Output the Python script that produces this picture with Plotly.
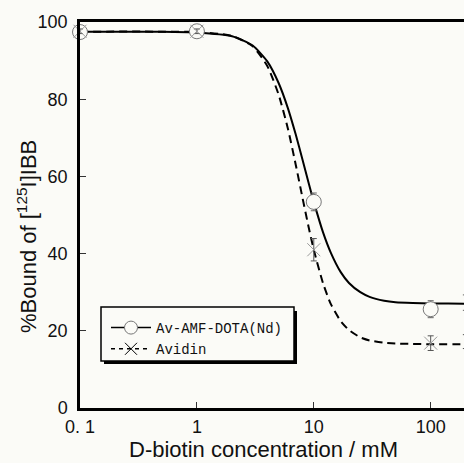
import plotly.graph_objects as go

# Measured points (mean ± SD)
conc = [0.1, 1, 10, 100, 200]
av_amf = [97.4, 97.6, 53.4, 25.6, 27.3]
av_amf_err = [0.6, 0.6, 2.3, 2.2, 2.0]
avidin = [97.6, 97.6, 41.0, 16.8, 17.2]
avidin_err = [0.6, 0.6, 2.9, 1.9, 1.8]

# Fitted inhibition curves
curve_conc = [0.1, 0.5, 1, 2, 3, 4, 5, 6, 7, 8, 9, 10, 12, 14, 17, 20, 25, 30,
              40, 50, 70, 100, 200, 250]
av_amf_fit = [97.5, 97.5, 97.3, 96.3, 93.9, 89.8, 84.2, 77.7, 70.9, 64.4, 58.5,
              53.4, 45.5, 40.2, 35.2, 32.4, 30.0, 28.8, 27.8, 27.4, 27.2, 27.1,
              27.0, 27.0]
avidin_fit = [97.5, 97.5, 97.4, 96.4, 93.7, 88.6, 81.2, 72.4, 63.1, 54.5, 47.1,
              41.0, 32.3, 26.9, 22.5, 20.2, 18.3, 17.5, 16.9, 16.7, 16.6, 16.5,
              16.5, 16.5]

x_ticks = [0.1, 1, 10, 100]
x_ticktext = ["0. 1", "1", "10", "100"]
y_ticks = [0, 20, 40, 60, 80, 100]

BG = "#fbfbf7"
W, H = 464, 463
L, R, T, B = 80, 0, 22, 55
PW, PH = W - L - R, H - T - B


def px(xp):
    return (xp - L) / PW


def py(yp):
    return (H - B - yp) / PH


fig = go.Figure()

# fitted curves
fig.add_trace(go.Scatter(x=curve_conc, y=av_amf_fit, mode="lines",
                         line=dict(color="black", width=2, shape="spline", smoothing=0.6),
                         showlegend=False, hoverinfo="skip"))
fig.add_trace(go.Scatter(x=curve_conc, y=avidin_fit, mode="lines",
                         line=dict(color="black", width=2, dash="8px,5px",
                                   shape="spline", smoothing=0.6),
                         showlegend=False, hoverinfo="skip"))

# data points
fig.add_trace(go.Scatter(x=conc, y=av_amf, mode="markers", cliponaxis=False,
                         error_y=dict(type="data", array=av_amf_err, color="#666",
                                      thickness=1, width=3),
                         marker=dict(symbol="circle", size=15, color=BG,
                                     line=dict(color="#777", width=1)),
                         showlegend=False))
fig.add_trace(go.Scatter(x=conc, y=avidin, mode="markers", cliponaxis=False,
                         error_y=dict(type="data", array=avidin_err, color="#555",
                                      thickness=1, width=3),
                         marker=dict(symbol="x-thin-open", size=13, color="#999",
                                     line=dict(color="#999", width=1)),
                         showlegend=False))

# legend entries
fig.add_trace(go.Scatter(x=[None], y=[None], mode="lines+markers",
                         name="Av-AMF-DOTA(Nd)",
                         line=dict(color="black", width=1.5),
                         marker=dict(symbol="circle", size=13, color=BG,
                                     line=dict(color="#777", width=1))))
fig.add_trace(go.Scatter(x=[None], y=[None], mode="lines+markers",
                         name="Avidin",
                         line=dict(color="black", width=1.5, dash="4px,4px"),
                         marker=dict(symbol="x-thin-open", size=12,
                                     line=dict(color="#999", width=1))))

shapes = [
    # legend shadow
    dict(type="rect", xref="paper", yref="paper",
         x0=px(104), x1=px(297), y0=py(311), y1=py(364),
         fillcolor="black", line=dict(width=0), layer="above"),
    # legend box
    dict(type="rect", xref="paper", yref="paper",
         x0=px(101), x1=px(294), y0=py(307), y1=py(361),
         fillcolor=BG, line=dict(color="black", width=1.5), layer="above"),
]

annotations = [
    dict(text="%Bound of [<sup>125</sup>I]IBB", xref="paper", yref="paper",
         x=px(27), y=py(237), textangle=-90, showarrow=False,
         font=dict(family="Liberation Sans, Arial", size=22, color="#111"),
         xanchor="center", yanchor="middle"),
    dict(text="D-biotin concentration / mM", xref="paper", yref="paper",
         x=px(263), y=py(449), showarrow=False,
         font=dict(family="Liberation Sans, Arial", size=22, color="#111"),
         xanchor="center", yanchor="middle"),
]

fig.update_layout(
    width=W, height=H,
    margin=dict(l=L, r=R, t=T, b=B),
    paper_bgcolor=BG, plot_bgcolor=BG,
    shapes=shapes, annotations=annotations,
    legend=dict(x=px(106), y=py(312), xanchor="left", yanchor="top",
                bgcolor="rgba(0,0,0,0)", borderwidth=0,
                font=dict(family="Liberation Mono, monospace", size=14, color="#111"),
                itemwidth=40),
    xaxis=dict(type="log", range=[-1, 2.285], tickvals=x_ticks, ticktext=x_ticktext,
               ticks="inside", ticklen=6, tickwidth=1.2, tickcolor="#333",
               showline=True, linewidth=2.5, linecolor="black", mirror=True,
               showgrid=False, zeroline=False, ticklabelstandoff=1,
               tickfont=dict(family="Liberation Sans, Arial", size=18, color="#111")),
    yaxis=dict(range=[0, 100], tickvals=y_ticks,
               ticks="inside", ticklen=6, tickwidth=1.2, tickcolor="#333",
               showline=True, linewidth=2.5, linecolor="black",
               showgrid=False, zeroline=False, ticklabelstandoff=6,
               tickfont=dict(family="Liberation Sans, Arial", size=18, color="#111")),
)

fig.write_html("out.html")
